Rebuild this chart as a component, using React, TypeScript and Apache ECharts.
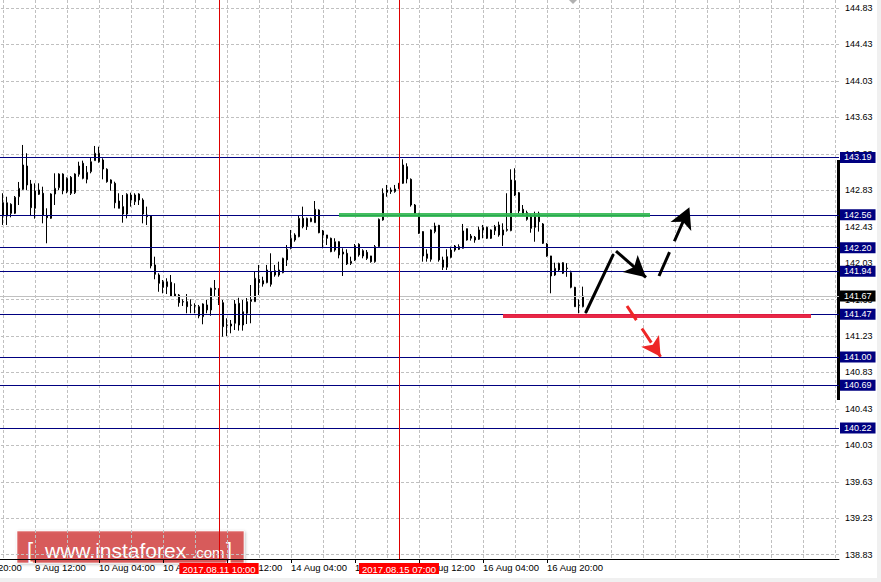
import React, { useEffect, useRef } from 'react';
import * as echarts from 'echarts';

const FONT = "'Liberation Sans', Arial, sans-serif";

// H1 candles, first bar = 2017.08.09 03:00 (index 7 on the time axis)
const OPEN = [142.833,142.693,142.547,142.676,142.577,142.759,142.840,143.096,142.899,142.632,142.833,142.797,142.547,142.522,142.789,142.858,143.008,142.814,142.972,142.803,143.005,143.126,142.950,143.034,143.155,143.236,143.162,143.060,142.943,142.906,142.712,142.650,142.569,142.778,142.704,142.789,142.723,142.558,142.547,142.010,141.900,141.826,141.771,141.820,141.669,141.680,141.607,141.607,141.571,141.560,141.552,141.442,141.516,141.516,141.754,141.743,141.596,141.351,141.340,141.370,141.589,141.351,141.480,141.610,141.607,141.853,141.837,141.816,141.936,141.900,141.900,141.925,142.065,142.193,142.284,142.320,142.522,142.430,142.485,142.474,142.613,142.383,142.339,142.303,142.174,142.265,142.130,142.138,142.028,142.065,142.237,142.108,142.149,142.109,142.046,142.211,142.504,142.808,142.833,142.815,142.906,142.906,143.089,142.950,142.668,142.577,142.376,142.131,142.072,142.376,142.445,142.065,141.985,142.094,142.174,142.211,142.193,142.408,142.303,142.314,142.292,142.394,142.423,142.394,142.386,142.449,142.339,142.390,142.387,142.935,142.803,142.621,142.584,142.547,142.423,142.577,142.460,142.240,142.109,141.900,141.955,142.035,141.970,141.925,141.765,141.571,141.552];
const CLOSE = [142.591,142.548,142.693,142.577,142.753,142.851,143.107,142.888,142.639,142.822,142.786,142.558,142.529,142.789,142.851,143.008,142.825,142.961,142.797,143.008,143.096,142.961,143.027,143.143,143.236,143.143,143.063,142.924,142.906,142.693,142.632,142.569,142.786,142.723,142.778,142.723,142.569,142.540,142.000,141.908,141.809,141.765,141.826,141.669,141.691,141.596,141.604,141.552,141.567,141.563,141.450,141.582,141.571,141.754,141.743,141.589,141.333,141.349,141.362,141.582,141.351,141.497,141.607,141.630,141.864,141.816,141.801,141.955,141.798,141.947,141.955,142.083,142.182,142.303,142.339,142.522,142.430,142.522,142.522,142.621,142.364,142.339,142.303,142.156,142.265,142.120,142.152,142.021,142.050,142.221,142.120,142.167,142.083,142.046,142.211,142.511,142.797,142.833,142.815,142.844,142.851,143.107,142.954,142.668,142.577,142.358,142.109,142.083,142.394,142.438,142.065,141.985,142.101,142.174,142.218,142.182,142.383,142.284,142.328,142.284,142.394,142.423,142.303,142.303,142.430,142.339,142.394,142.400,142.943,142.778,142.602,142.569,142.511,142.412,142.547,142.485,142.248,142.109,141.889,141.973,142.028,141.919,141.976,141.765,141.552,141.567,141.669];
const LOW = [142.558,142.449,142.449,142.533,142.569,142.668,142.833,142.833,142.547,142.518,142.778,142.467,142.248,142.515,142.668,142.833,142.786,142.797,142.778,142.789,142.979,142.950,142.906,143.016,143.155,143.132,142.950,142.913,142.825,142.632,142.632,142.474,142.522,142.650,142.668,142.668,142.467,142.449,141.973,141.853,141.716,141.699,141.691,141.662,141.662,141.552,141.560,141.480,141.480,141.480,141.425,141.359,141.480,141.453,141.662,141.571,141.223,141.231,141.260,141.296,141.289,141.289,141.362,141.370,141.607,141.680,141.772,141.809,141.772,141.881,141.881,141.919,141.999,142.182,142.265,142.314,142.412,142.394,142.480,142.474,142.358,142.193,142.229,142.150,142.156,142.083,141.889,142.010,142.010,142.054,142.101,142.083,142.065,142.035,142.035,142.204,142.496,142.759,142.790,142.803,142.841,142.900,142.906,142.650,142.569,142.350,142.046,142.046,142.046,142.358,142.046,141.955,141.955,142.083,142.156,142.174,142.190,142.277,142.277,142.254,142.284,142.303,142.295,142.295,142.339,142.320,142.218,142.376,142.380,142.767,142.577,142.558,142.496,142.364,142.265,142.376,142.240,142.100,141.699,141.890,141.936,141.911,141.880,141.754,141.550,141.480,141.545];
const HIGH = [142.965,142.797,142.759,142.687,142.767,142.921,143.327,143.236,142.943,142.906,142.906,142.869,142.632,142.797,143.016,143.016,143.016,142.972,142.986,143.016,143.143,143.155,143.096,143.192,143.316,143.308,143.181,143.071,142.950,142.924,142.797,142.778,142.797,142.803,142.797,142.797,142.742,142.650,142.558,142.101,141.919,141.845,141.864,141.900,141.809,141.691,141.633,141.691,141.633,141.589,141.571,141.589,141.626,141.761,141.845,141.754,141.626,141.425,141.406,141.626,141.650,141.626,141.647,141.790,141.936,142.010,141.881,142.010,142.138,142.010,142.046,142.090,142.229,142.394,142.358,142.558,142.650,142.530,142.530,142.712,142.620,142.394,142.340,142.310,142.303,142.270,142.193,142.182,142.101,142.240,142.248,142.182,142.174,142.110,142.229,142.520,142.851,142.888,142.860,142.888,142.910,143.170,143.126,142.960,142.679,142.580,142.380,142.182,142.400,142.474,142.450,142.101,142.182,142.211,142.229,142.237,142.460,142.410,142.350,142.328,142.430,142.449,142.430,142.400,142.449,142.485,142.467,142.797,143.060,143.071,142.810,142.668,142.606,142.569,142.595,142.595,142.470,142.250,142.110,142.035,142.035,142.040,142.030,141.947,141.770,141.633,141.772];
const FIRST_BAR = 7;
const AXIS_SLOTS = 218;
const AXIS_START = Date.UTC(2017, 7, 8, 20);

const Y_TICKS = [138.83, 139.23, 139.63, 140.03, 140.43, 140.83, 141.23, 141.63, 142.03, 142.43, 142.83, 143.23, 143.63, 144.03, 144.43, 144.83];
const LEVELS = [143.19, 142.56, 142.2, 141.94, 141.47, 141.0, 140.69, 140.22];
const BID = 141.67;
const EVENT_TIMES = ['2017.08.11 10:00', '2017.08.15 07:00'];

// annotations: [slot, price]
const GREEN_ZONE = [[92, 142.56], [169.75, 142.56]];
const RED_ZONE = [[133, 141.45], [210, 141.45]];
const UP_LINE = [[153.75, 141.494], [160.5, 142.119]];
const DOWN_ARROW = [[161.25, 142.163], [168.75, 141.875]];
const UP_DASH = [[172, 141.889], [179.6, 142.643]];
const RED_DASH = [[164, 141.56], [172.4, 141.003]];

const MONTHS = ['Jan', 'Feb', 'Mar', 'Apr', 'May', 'Jun', 'Jul', 'Aug', 'Sep', 'Oct', 'Nov', 'Dec'];
const pad = (n: number) => (n < 10 ? '0' + n : '' + n);

function buildTimes(start: number, count: number): string[] {
  const out: string[] = [];
  for (let t = start; out.length < count; t += 3600000) {
    const d = new Date(t);
    const wd = d.getUTCDay();
    if (wd === 0 || wd === 6) continue;
    out.push(`${d.getUTCFullYear()}.${pad(d.getUTCMonth() + 1)}.${pad(d.getUTCDate())} ${pad(d.getUTCHours())}:00`);
  }
  return out;
}

const TIMES = buildTimes(AXIS_START, AXIS_SLOTS);
const LAST_BAR = FIRST_BAR + OPEN.length - 1;

function shortLabel(s: string): string {
  const [date, time] = s.split(' ');
  const [, mm, dd] = date.split('.');
  return `${parseInt(dd, 10)} ${MONTHS[parseInt(mm, 10) - 1]} ${time}`;
}

export default function App() {
  const ref = useRef<HTMLDivElement>(null);
  useEffect(() => {
    if (!ref.current) return;
    const chart = echarts.init(ref.current, null, { renderer: 'svg' });
    const candles = TIMES.map((_, j) => {
      const i = j - FIRST_BAR;
      if (i < 0 || i >= OPEN.length) return '-';
      return [OPEN[i], CLOSE[i], LOW[i], HIGH[i]];
    });
    const seg = (pts: number[][], style: any, arrow: number[] | null) => [
      { coord: pts[0], symbol: 'none', lineStyle: style },
      arrow ? { coord: pts[1], symbol: 'arrow', symbolSize: arrow } : { coord: pts[1], symbol: 'none' },
    ];
    const labelled = (i: number) => i % 16 === 0 && i <= LAST_BAR;
    const option: any = {
      animation: false,
      backgroundColor: '#ffffff',
      textStyle: { fontFamily: FONT },
      grid: { left: -29, right: 42, top: 0, bottom: 23, containLabel: false, outerBoundsMode: 'none' },
      xAxis: [
        {
          type: 'category',
          data: TIMES,
          boundaryGap: false,
          axisLine: { show: true, lineStyle: { color: '#000', width: 1 } },
          axisTick: { show: true, interval: labelled, length: 4, lineStyle: { color: '#000' } },
          axisLabel: {
            interval: labelled,
            formatter: (v: string) => shortLabel(v),
            align: 'left',
            margin: 3,
            fontSize: 9.5,
            color: '#000',
            fontFamily: FONT,
          },
          splitLine: { show: true, interval: (i: number) => i % 8 === 0, lineStyle: { color: '#c0c0c0', type: [3, 2], width: 1 } },
        },
        { type: 'value', min: 0, max: AXIS_SLOTS - 1, show: false },
      ],
      yAxis: {
        type: 'value',
        position: 'right',
        min: 138.783,
        max: 144.918,
        axisLine: { show: true, lineStyle: { color: '#000', width: 1 } },
        axisTick: { show: true, customValues: Y_TICKS, length: 4, lineStyle: { color: '#000' } },
        axisLabel: {
          customValues: Y_TICKS,
          formatter: (v: number) => v.toFixed(2),
          color: '#000',
          fontSize: 9,
          fontFamily: FONT,
          margin: 6,
        },
        splitLine: { show: true, lineStyle: { color: '#c0c0c0', type: [3, 2], width: 1 } },
      },
      series: [
        {
          type: 'candlestick',
          data: candles,
          barWidth: 2,
          itemStyle: { color: '#ffffff', color0: '#000000', borderColor: '#000000', borderColor0: '#000000', borderWidth: 1 },
          silent: true,
        },
        {
          type: 'line',
          data: [],
          silent: true,
          markLine: {
            silent: true,
            symbol: ['none', 'none'],
            lineStyle: { color: '#000080', width: 1, type: 'solid' },
            label: {
              show: true,
              position: 'end',
              distance: 1,
              formatter: (p: any) => Number(p.value).toFixed(2),
              color: '#fff',
              backgroundColor: '#000080',
              padding: [1, 4, 0, 4],
              lineHeight: 10,
              fontSize: 9,
              fontFamily: FONT,
            },
            emphasis: { disabled: true },
            data: [
              ...LEVELS.map((v) => ({ yAxis: v })),
              {
                yAxis: BID,
                lineStyle: { color: '#c0c0c0', width: 1, type: 'solid' },
                label: { backgroundColor: '#000000' },
              },
            ],
          },
        },
        {
          type: 'line',
          data: [],
          silent: true,
          markLine: {
            silent: true,
            symbol: ['none', 'none'],
            lineStyle: { color: '#dd0000', width: 1, type: 'solid' },
            label: {
              show: true,
              position: 'start',
              distance: 4,
              formatter: (p: any) => p.name,
              color: '#fff',
              backgroundColor: '#ff0000',
              padding: [1, 3, 0, 3],
              lineHeight: 10,
              fontSize: 9.5,
              fontFamily: FONT,
            },
            emphasis: { disabled: true },
            data: EVENT_TIMES.map((t) => ({ xAxis: t, name: t })),
          },
        },
        {
          type: 'line',
          xAxisIndex: 1,
          data: [],
          silent: true,
          markLine: {
            silent: true,
            symbol: ['none', 'none'],
            label: { show: false },
            emphasis: { disabled: true },
            data: [
              seg(GREEN_ZONE, { color: '#2fb84e', width: 4, type: 'solid', opacity: 0.9 }, null),
              seg(RED_ZONE, { color: '#e81c3c', width: 4, type: 'solid', opacity: 0.95 }, null),
              seg(UP_LINE, { color: '#000', width: 3, type: 'solid', cap: 'round' }, null),
              seg(DOWN_ARROW, { color: '#000', width: 3, type: 'solid' }, [17, 21]),
              seg(UP_DASH, { color: '#000', width: 3, type: [26, 12] }, [17, 21]),
              seg(RED_DASH, { color: '#ee2626', width: 3, type: [17, 10] }, [16, 19]),
            ],
          },
        },
      ],
      graphic: [
        { type: 'rect', z: 1, shape: { x: 877, y: 0, width: 4, height: 582 }, style: { fill: '#f0f0f0' } },
        { type: 'rect', z: 1, shape: { x: 0, y: 578, width: 881, height: 4 }, style: { fill: '#f0f0f0' } },
        { type: 'rect', z: 1, shape: { x: 837, y: 160, width: 3, height: 240 }, style: { fill: '#000' } },
        { type: 'polygon', z: 1, shape: { points: [[569, 0], [577, 0], [573, 4]] }, style: { fill: '#b0b0b0' } },
        {
          type: 'group',
          z: 100,
          children: [
            {
              type: 'rect',
              shape: { x: 17, y: 531, width: 227, height: 32 },
              style: { fill: 'rgba(214,48,48,0.72)', stroke: 'rgba(255,255,255,0.6)', lineWidth: 1, shadowBlur: 3, shadowColor: 'rgba(0,0,0,0.35)', shadowOffsetX: 1, shadowOffsetY: 1 },
            },
            { type: 'text', x: 27, y: 550, style: { text: '[', fill: '#fff', fontSize: 22, fontFamily: FONT, verticalAlign: 'middle' } },
            { type: 'text', x: 45, y: 550, style: { text: 'www.instaforex', fill: '#fff', fontSize: 21, fontFamily: FONT, verticalAlign: 'middle' } },
            { type: 'text', x: 192, y: 552, style: { text: '.com', fill: '#fff', fontSize: 15, fontFamily: FONT, verticalAlign: 'middle' } },
            { type: 'text', x: 226, y: 550, style: { text: ']', fill: '#fff', fontSize: 22, fontFamily: FONT, verticalAlign: 'middle' } },
          ],
        },
      ],
    };
    chart.setOption(option);
    return () => chart.dispose();
  }, []);
  return <div ref={ref} style={{ position: 'fixed', left: 0, top: 0, width: 881, height: 582, background: '#fff' }} />;
}
